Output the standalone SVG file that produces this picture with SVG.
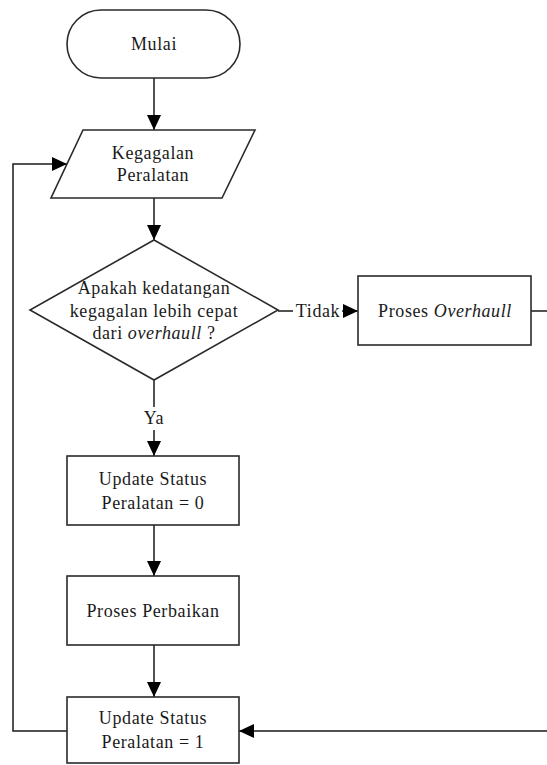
<svg xmlns="http://www.w3.org/2000/svg" width="547" height="765" viewBox="0 0 547 765">
<defs>
<style>
.s{fill:#fff;stroke:#2a2a2a;stroke-width:1.6}
.t{font-family:"Liberation Serif","Times New Roman",serif;font-size:18px;letter-spacing:0.6px;fill:#1a1a1a;text-anchor:middle}
.c{fill:none;stroke:#1a1a1a;stroke-width:1.5}
</style>
<marker id="b" viewBox="0 0 15 14" refX="15" refY="7" markerWidth="15" markerHeight="14" markerUnits="userSpaceOnUse" orient="auto">
<path d="M0,0 L15,7 L0,14 Z" fill="#000"/>
</marker>
</defs>
<rect width="547" height="765" fill="#fff"/>
<g id="connectors">
<path class="c" d="M154,78 V130" marker-end="url(#b)"/>
<path class="c" d="M154,198 V240" marker-end="url(#b)"/>
<path class="c" d="M154,380 V407"/>
<path class="c" d="M154,430 V456" marker-end="url(#b)"/>
<path class="c" d="M154,525 V576" marker-end="url(#b)"/>
<path class="c" d="M154,645 V697" marker-end="url(#b)"/>
<path class="c" d="M278,311 H293"/>
<path class="c" d="M342,311 H358" marker-end="url(#b)"/>
<path class="c" d="M531,311 H548 V731 H239" marker-end="url(#b)"/>
<path class="c" d="M67,731 H13 V164 H67" marker-end="url(#b)"/>
<text class="t" x="318" y="317">Tidak</text>
<text class="t" x="154" y="424">Ya</text>
</g>
<g id="mulai">
<rect class="s" x="67" y="10" width="173" height="68" rx="34" ry="34"/>
<text class="t" x="154" y="50">Mulai</text>
</g>
<g id="kegagalan">
<polygon class="s" points="83,130 255,130 222,198 51,198"/>
<text class="t" x="153" y="159">Kegagalan</text>
<text class="t" x="153" y="181">Peralatan</text>
</g>
<g id="keputusan">
<polygon class="s" points="154,240 278,310 154,380 30,310"/>
<text class="t" x="154" y="294">Apakah kedatangan</text>
<text class="t" x="154" y="317">kegagalan lebih cepat</text>
<text class="t" x="154" y="339">dari <tspan font-style="italic">overhaull</tspan> ?</text>
</g>
<g id="overhaul">
<rect class="s" x="358" y="276" width="173" height="69"/>
<text class="t" x="445" y="317">Proses <tspan font-style="italic">Overhaull</tspan></text>
</g>
<g id="update0">
<rect class="s" x="67" y="456" width="172" height="69"/>
<text class="t" x="153" y="485">Update Status</text>
<text class="t" x="153" y="509">Peralatan = 0</text>
</g>
<g id="perbaikan">
<rect class="s" x="67" y="576" width="172" height="69"/>
<text class="t" x="153" y="617">Proses Perbaikan</text>
</g>
<g id="update1">
<rect class="s" x="67" y="697" width="172" height="66"/>
<text class="t" x="153" y="724">Update Status</text>
<text class="t" x="153" y="748">Peralatan = 1</text>
</g>
</svg>
